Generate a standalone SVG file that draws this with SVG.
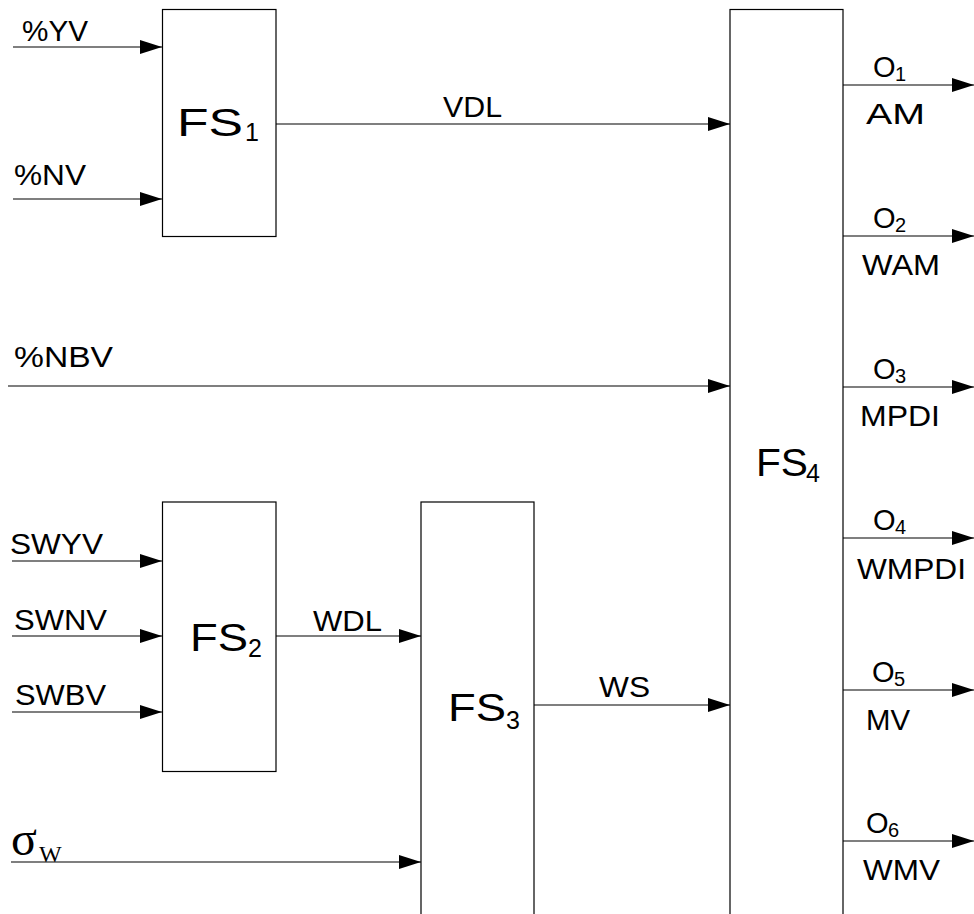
<svg xmlns="http://www.w3.org/2000/svg" width="974" height="914" viewBox="0 0 974 914">
<defs>
<style>
.box{fill:#fff;stroke:#000;stroke-width:1.2}
.ln{stroke:#000;stroke-width:1.2;fill:none;marker-end:url(#ah)}
text{font-family:"Liberation Sans",Arial,sans-serif;fill:#000}
.lbl{font-size:29px}
.sub{font-size:20px}
.fs{font-size:38px}
.fsub{font-size:25px}
.ser{font-family:"Liberation Serif","Times New Roman",serif}
</style>
<marker id="ah" markerUnits="userSpaceOnUse" markerWidth="22" markerHeight="14" refX="22" refY="7" orient="auto">
<path d="M0,0 L22,7 L0,14 z" fill="#000"/>
</marker>
</defs>
<rect width="974" height="914" fill="#fff"/>
<g id="connectors">
<path class="ln" d="M13,47 H162"/>
<path class="ln" d="M13,199 H162"/>
<path class="ln" d="M276,124 H730"/>
<path class="ln" d="M8,386 H730"/>
<path class="ln" d="M12,561 H162"/>
<path class="ln" d="M12,636 H162"/>
<path class="ln" d="M12,712 H162"/>
<path class="ln" d="M276,636 H421"/>
<path class="ln" d="M11,862 H421"/>
<path class="ln" d="M534,705 H730"/>
<path class="ln" d="M843,85 H974"/>
<path class="ln" d="M843,236 H974"/>
<path class="ln" d="M843,387 H974"/>
<path class="ln" d="M843,538 H974"/>
<path class="ln" d="M843,690 H974"/>
<path class="ln" d="M843,841 H974"/>
</g>
<g id="FS1">
<rect class="box" x="162.5" y="9.5" width="113.5" height="227"/>
<text class="fs" x="177" y="136" textLength="66" lengthAdjust="spacingAndGlyphs">FS</text>
<text class="fsub" x="245" y="141">1</text>
</g>
<g id="FS2">
<rect class="box" x="162.5" y="502" width="113.5" height="269.5"/>
<text class="fs" x="190" y="651" textLength="58" lengthAdjust="spacingAndGlyphs">FS</text>
<text class="fsub" x="248" y="657">2</text>
</g>
<g id="FS3">
<rect class="box" x="421" y="502" width="113" height="430"/>
<text class="fs" x="448" y="721" textLength="58" lengthAdjust="spacingAndGlyphs">FS</text>
<text class="fsub" x="506" y="729">3</text>
</g>
<g id="FS4">
<rect class="box" x="730" y="9.5" width="113" height="930"/>
<text class="fs" x="756" y="476" textLength="52" lengthAdjust="spacingAndGlyphs">FS</text>
<text class="fsub" x="806" y="482">4</text>
</g>
<g id="labels">
<text class="lbl" x="22" y="41" textLength="66" lengthAdjust="spacingAndGlyphs">%YV</text>
<text class="lbl" x="14" y="185" textLength="72" lengthAdjust="spacingAndGlyphs">%NV</text>
<text class="lbl" x="14" y="367" textLength="99" lengthAdjust="spacingAndGlyphs">%NBV</text>
<text class="lbl" x="10" y="554" textLength="93" lengthAdjust="spacingAndGlyphs">SWYV</text>
<text class="lbl" x="14" y="630" textLength="93" lengthAdjust="spacingAndGlyphs">SWNV</text>
<text class="lbl" x="15" y="705" textLength="91" lengthAdjust="spacingAndGlyphs">SWBV</text>
<text class="lbl" x="443" y="117" textLength="59" lengthAdjust="spacingAndGlyphs">VDL</text>
<text class="lbl" x="313" y="631" textLength="69" lengthAdjust="spacingAndGlyphs">WDL</text>
<text class="lbl" x="599" y="697" textLength="51" lengthAdjust="spacingAndGlyphs">WS</text>
<text class="ser" x="11" y="855" font-size="48">σ</text>
<text class="ser" x="39" y="862" font-size="24">W</text>
<text class="lbl" x="873" y="77">O</text><text class="sub" x="895" y="81">1</text>
<text class="lbl" x="866" y="124" textLength="59" lengthAdjust="spacingAndGlyphs">AM</text>
<text class="lbl" x="873" y="228">O</text><text class="sub" x="895" y="232">2</text>
<text class="lbl" x="862" y="275" textLength="78" lengthAdjust="spacingAndGlyphs">WAM</text>
<text class="lbl" x="873" y="379">O</text><text class="sub" x="895" y="383">3</text>
<text class="lbl" x="860" y="426" textLength="80" lengthAdjust="spacingAndGlyphs">MPDI</text>
<text class="lbl" x="873" y="530">O</text><text class="sub" x="895" y="534">4</text>
<text class="lbl" x="857" y="579" textLength="109" lengthAdjust="spacingAndGlyphs">WMPDI</text>
<text class="lbl" x="872" y="682">O</text><text class="sub" x="894" y="686">5</text>
<text class="lbl" x="866" y="730" textLength="44" lengthAdjust="spacingAndGlyphs">MV</text>
<text class="lbl" x="866" y="833">O</text><text class="sub" x="888" y="837">6</text>
<text class="lbl" x="863" y="880" textLength="77" lengthAdjust="spacingAndGlyphs">WMV</text>
</g>
</svg>
